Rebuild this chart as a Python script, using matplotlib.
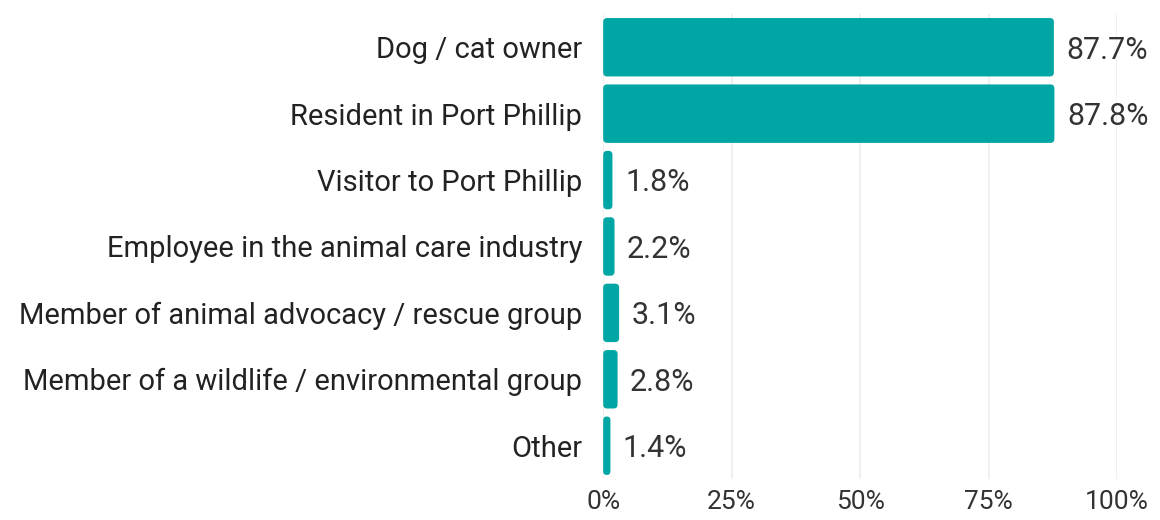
import matplotlib.pyplot as plt
from matplotlib.patches import FancyBboxPatch

# data
categories = [
    "Dog / cat owner",
    "Resident in Port Phillip",
    "Visitor to Port Phillip",
    "Employee in the animal care industry",
    "Member of animal advocacy / rescue group",
    "Member of a wildlife / environmental group",
    "Other",
]
percent = [87.7, 87.8, 1.8, 2.2, 3.1, 2.8, 1.4]
tick_values = [0, 25, 50, 75, 100]
tick_labels = ["0%", "25%", "50%", "75%", "100%"]

teal = "#00A6A3"
plt.rcParams["font.family"] = ["Roboto", "DejaVu Sans"]

fig = plt.figure(figsize=(11.6, 5.2), dpi=100)
ax = fig.add_axes([0.52, 0.079, 0.443, 0.894])

y = list(range(len(categories)))
bars = ax.barh(y, percent, height=0.88, color=teal)

ax.set_xlim(0, 100)
ax.set_ylim(len(categories) - 0.5, -0.5)

# swap plain bars for rounded ones
px_x = ax.bbox.width / 100
px_y = ax.bbox.height / len(categories)
for b in bars:
    x0, y0 = b.get_x(), b.get_y()
    w, h = b.get_width(), b.get_height()
    r = min(4 / px_x, w / 2)
    fb = FancyBboxPatch((x0, y0), w, h,
                        boxstyle=f"round,pad=0,rounding_size={r}",
                        mutation_aspect=px_x / px_y,
                        facecolor=teal, edgecolor="none", zorder=3)
    b.set_visible(False)
    ax.add_patch(fb)

for yi, v in zip(y, percent):
    ax.annotate(f"{v}%", xy=(v, yi), xytext=(9, -2), textcoords="offset points",
                va="center", ha="left", fontsize=22, color="#333333")

ax.set_yticks(y)
ax.set_yticklabels(categories, fontsize=21, color="#222222")
ax.set_xticks(tick_values)
ax.set_xticklabels(tick_labels, fontsize=19, color="#333333")
ax.tick_params(axis="both", length=0)
ax.tick_params(axis="y", pad=15)
ax.tick_params(axis="x", pad=8)

ax.grid(axis="x", color="#EEEEEE", linewidth=1.2)
ax.set_axisbelow(True)
for s in ax.spines.values():
    s.set_visible(False)

fig.savefig("out.png", dpi=100, facecolor="white")
